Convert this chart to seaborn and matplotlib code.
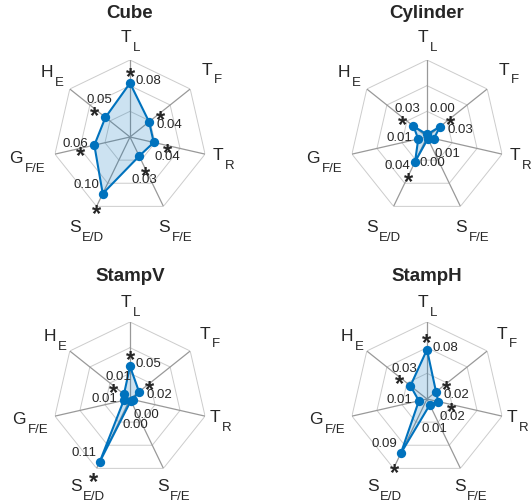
import matplotlib
matplotlib.use("Agg")
import matplotlib.pyplot as plt
import seaborn as sns
import numpy as np
import pandas as pd

# axes of every spider plot, clockwise from the top
axis_main = ["T", "T", "T", "S", "S", "G", "H"]
axis_sub = ["L", "F", "R", "F/E", "E/D", "F/E", "E"]

shapes = ["Cube", "Cylinder", "StampV", "StampH"]

cube_vals = [0.084, 0.038, 0.038, 0.033, 0.098, 0.057, 0.049]
cylinder_vals = [0.004, 0.026, 0.011, 0.003, 0.043, 0.014, 0.027]
stampv_vals = [0.051, 0.018, 0.004, 0.003, 0.109, 0.010, 0.012]
stamph_vals = [0.077, 0.018, 0.018, 0.010, 0.094, 0.013, 0.033]

# significance marks (asterisks)
cube_sig = [1, 1, 1, 1, 1, 1, 1]
cylinder_sig = [0, 1, 0, 0, 1, 0, 1]
stampv_sig = [1, 1, 0, 0, 1, 0, 1]
stamph_sig = [1, 1, 1, 0, 1, 0, 1]

values = [cube_vals, cylinder_vals, stampv_vals, stamph_vals]
sigs = [cube_sig, cylinder_sig, stampv_sig, stamph_sig]

rmax = 0.12
n_rings = 3
blue = "#0072BD"

sns.set_style("white")
plt.rcParams['font.family'] = ['Liberation Sans', 'DejaVu Sans']

W, H = 531, 502
fig = plt.figure(figsize=(W / 100, H / 100), dpi=100)

R = 77  # px
centers = [(130, 138), (427, 138), (130, 400), (427, 400)]
title_y = [13, 13, 277, 277]
label_scale = [1.0, 1.0, 0.97, 0.97]

n = len(axis_main)
angles = np.pi / 2 - np.arange(n) * 2 * np.pi / n
label_r = [1.26, 1.35, 1.23, 1.33, 1.33, 1.38, 1.30]

# value label offsets (px) per axis
lab_off = [(18, 3), (20, -2), (14, -14), (5, -23), (-16, 10), (-19, 2), (-6, 18)]
cyl_off = {0: (15, 26), 4: (-18, -3)}

main_fs, sub_fs = 12.5, 9.5
main_w = {"T": 0.611, "S": 0.667, "G": 0.778, "H": 0.722}
sub_w = {"L": 0.556, "F": 0.611, "R": 0.722, "E": 0.667, "D": 0.722, "/": 0.278}

for k, name in enumerate(shapes):
    cx, cy = centers[k]
    ax = fig.add_axes([(cx - R) / W, (H - cy - R) / H, 2 * R / W, 2 * R / H],
                      projection='polar')
    ax.set_ylim(0, rmax)
    ax.grid(False)
    ax.spines['polar'].set_visible(False)
    ax.set_xticks([])
    ax.set_yticks([])

    closed = np.append(angles, angles[0])
    for i in range(1, n_rings + 1):
        ax.plot(closed, [rmax * i / n_rings] * (n + 1), color='#cccccc', lw=0.7, zorder=1)
    for a in angles:
        ax.plot([a, a], [0, rmax], color='#999999', lw=0.9, zorder=1)

    df = pd.DataFrame({'angle': angles, 'value': values[k], 'sig': sigs[k]})
    vals_closed = np.append(df['value'].values, df['value'].values[0])
    ax.fill(closed, vals_closed, color=blue, alpha=0.2, lw=0, zorder=2)
    ax.plot(closed, vals_closed, color=blue, lw=1.5, zorder=3)
    sns.scatterplot(data=df, x='angle', y='value', ax=ax, color=blue, s=45,
                    edgecolor=blue, linewidth=0, zorder=4, legend=False)
    ax.set_xlabel('')
    ax.set_ylabel('')

    for i, row in df.iterrows():
        ox, oy = lab_off[i]
        if name == "Cylinder" and i in cyl_off:
            ox, oy = cyl_off[i]
        ax.annotate(f"{row['value']:.2f}", (row['angle'], row['value']),
                    xytext=(ox * 0.72, oy * 0.72), textcoords='offset points',
                    ha='center', va='center', fontsize=9.5, zorder=5)
        if row['sig']:
            d = 14 * 0.72
            ax.annotate("*", (row['angle'], row['value']),
                        xytext=(d * np.cos(row['angle']), d * np.sin(row['angle']) - 5),
                        textcoords='offset points', ha='center', va='center',
                        fontsize=17, fontweight='bold', zorder=5)

    # axis names: capital with a lowered subscript
    for a, m, s, lr in zip(angles, axis_main, axis_sub, label_r):
        wm = main_w[m] * main_fs
        ws = sum(sub_w[c] for c in s) * sub_fs
        split = (wm - ws) / 2
        r_lab = rmax * lr * label_scale[k]
        ax.annotate(m, (a, r_lab), xytext=(split, -1.0), textcoords='offset points',
                    ha='right', va='baseline', fontsize=main_fs, annotation_clip=False)
        ax.annotate(s, (a, r_lab), xytext=(split + 1.2, -7.4), textcoords='offset points',
                    ha='left', va='baseline', fontsize=sub_fs, annotation_clip=False)

    fig.text(cx / W, 1 - title_y[k] / H, name, ha='center', va='center',
             fontsize=13.5, fontweight='bold')

fig.savefig("out.png", dpi=100)
